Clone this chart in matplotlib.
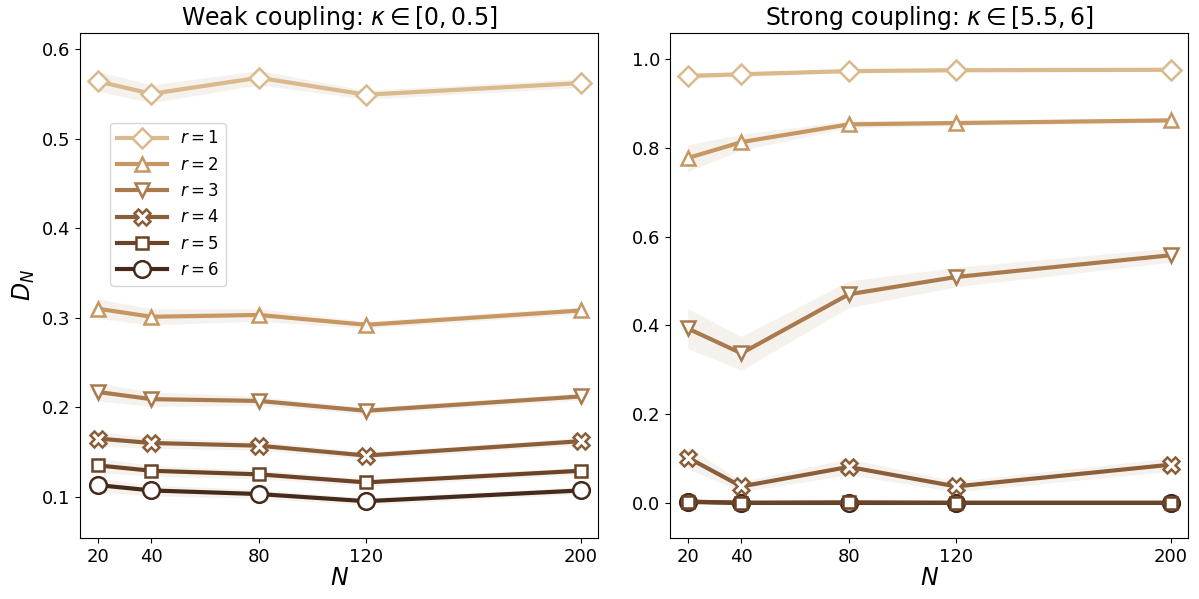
import matplotlib
matplotlib.use('Agg')
import matplotlib.pyplot as plt
import numpy as np

N = [20, 40, 80, 120, 200]
labels = ['$r = 1$', '$r = 2$', '$r = 3$', '$r = 4$', '$r = 5$', '$r = 6$']

# weak coupling, kappa in [0, 0.5]
weak_r1 = [0.564, 0.550, 0.568, 0.549, 0.562]
weak_r2 = [0.310, 0.301, 0.303, 0.292, 0.308]
weak_r3 = [0.217, 0.209, 0.207, 0.196, 0.212]
weak_r4 = [0.165, 0.160, 0.157, 0.146, 0.162]
weak_r5 = [0.135, 0.129, 0.125, 0.116, 0.129]
weak_r6 = [0.113, 0.107, 0.103, 0.095, 0.107]

# spread of the shaded band (half width)
weak_err_r1 = [0.011, 0.010, 0.008, 0.005, 0.005]
weak_err_r2 = [0.011, 0.009, 0.007, 0.004, 0.004]
weak_err_r3 = [0.010, 0.008, 0.005, 0.004, 0.004]
weak_err_r4 = [0.008, 0.006, 0.005, 0.004, 0.004]
weak_err_r5 = [0.008, 0.006, 0.005, 0.004, 0.004]
weak_err_r6 = [0.008, 0.006, 0.005, 0.004, 0.004]

# strong coupling, kappa in [5.5, 6]
strong_r1 = [0.962, 0.966, 0.973, 0.975, 0.976]
strong_r2 = [0.777, 0.813, 0.853, 0.856, 0.862]
strong_r3 = [0.393, 0.337, 0.470, 0.509, 0.558]
strong_r4 = [0.102, 0.037, 0.081, 0.037, 0.086]
strong_r5 = [0.003, 0.000, 0.001, 0.000, 0.000]
strong_r6 = [0.002, 0.000, 0.000, 0.000, 0.000]

strong_err_r1 = [0.006, 0.005, 0.004, 0.004, 0.004]
strong_err_r2 = [0.030, 0.018, 0.008, 0.006, 0.005]
strong_err_r3 = [0.045, 0.038, 0.030, 0.022, 0.016]
strong_err_r4 = [0.025, 0.012, 0.018, 0.012, 0.015]
strong_err_r5 = [0.003, 0.002, 0.002, 0.002, 0.002]
strong_err_r6 = [0.003, 0.002, 0.002, 0.002, 0.002]

colors = ['#dab98c', '#c69762', '#a97a4d', '#8b5e3a', '#6b4428', '#45291a']
markers = ['D', '^', 'v', 'X', 's', 'o']
msizes = [10, 10, 10, 11, 8, 12]

weak = [weak_r1, weak_r2, weak_r3, weak_r4, weak_r5, weak_r6]
weak_err = [weak_err_r1, weak_err_r2, weak_err_r3, weak_err_r4, weak_err_r5, weak_err_r6]
strong = [strong_r1, strong_r2, strong_r3, strong_r4, strong_r5, strong_r6]
strong_err = [strong_err_r1, strong_err_r2, strong_err_r3, strong_err_r4, strong_err_r5, strong_err_r6]

plt.rcParams['font.family'] = 'DejaVu Sans'
fig, axes = plt.subplots(1, 2, figsize=(11.99, 5.99), dpi=100)
fig.subplots_adjust(left=0.067, right=0.991, top=0.945, bottom=0.102, wspace=0.139)


def draw(ax, series, errs):
    for i in range(6):
        y = np.array(series[i])
        e = np.array(errs[i])
        ax.fill_between(N, y - e, y + e, color='#ebe3d9', alpha=0.45, lw=0, zorder=1)
        # lower r drawn on top, so the squares sit inside the circles near zero
        ax.plot(N, y, color=colors[i], lw=3, marker=markers[i], ms=msizes[i],
                mfc='white', mec=colors[i], mew=1.8, label=labels[i], zorder=10 - i)
    ax.set_xticks(N)
    ax.set_xlim(13.5, 206.5)
    ax.set_xlabel('$N$', fontsize=17, labelpad=0)
    ax.tick_params(labelsize=13)


draw(axes[0], weak, weak_err)
axes[0].set_ylim(0.054, 0.618)
axes[0].set_yticks([0.1, 0.2, 0.3, 0.4, 0.5, 0.6])
axes[0].set_ylabel('$D_N$', fontsize=17)
axes[0].set_title(r'Weak coupling: $\kappa \in [0, 0.5]$', fontsize=17)
axes[0].legend(loc='upper left', bbox_to_anchor=(0.058, 0.822), borderaxespad=0,
               fontsize=12, handlelength=3)

draw(axes[1], strong, strong_err)
axes[1].set_ylim(-0.079, 1.059)
axes[1].set_yticks([0.0, 0.2, 0.4, 0.6, 0.8, 1.0])
axes[1].set_title(r'Strong coupling: $\kappa \in [5.5, 6]$', fontsize=17)

plt.savefig('out.png', dpi=100)
